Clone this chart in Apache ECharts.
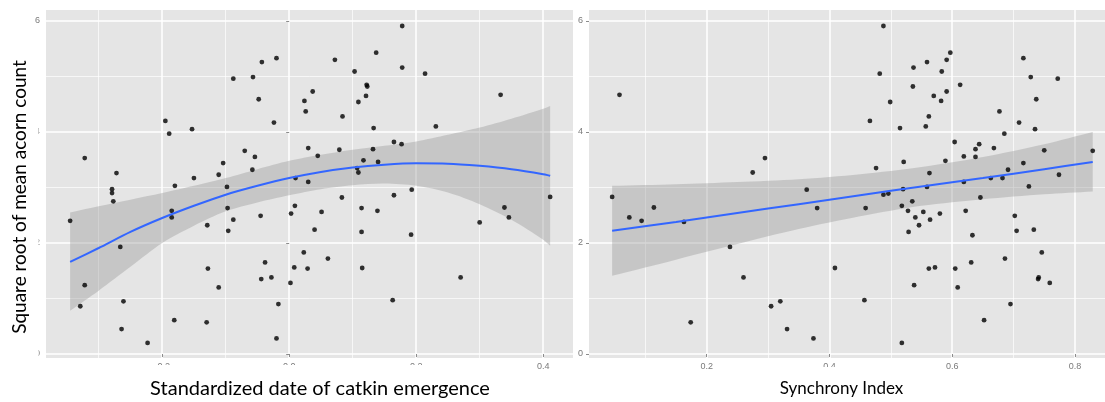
<!DOCTYPE html>
<html>
<head>
<meta charset="utf-8">
<script src="https://cdn.jsdelivr.net/npm/echarts@6/dist/echarts.min.js"></script>
<style>
  html, body { margin: 0; padding: 0; background: #ffffff; }
  #chart { width: 1105px; height: 402px; }
</style>
</head>
<body>
<div id="chart"></div>
<script>
// ---- Left panel: acorn count vs. standardized catkin emergence date ----
const catkinDate = [
  -0.322, -0.272, -0.195, -0.189, -0.153, -0.150, -0.111, -0.104, -0.088, -0.070,
  -0.057, -0.054, -0.058, -0.048, -0.043, -0.024, -0.020, 0.024, 0.026, 0.030,
  0.037, 0.178, 0.137, 0.072, 0.103, 0.178, 0.214, 0.122, 0.123, 0.121,
  0.109, 0.084, 0.333, 0.133, 0.231, 0.045, 0.079, 0.132, 0.165, 0.177,
  0.117, 0.140, 0.107, 0.109, 0.030, -0.279, -0.279, -0.277, -0.345, -0.180,
  -0.098, -0.185, -0.185, -0.129, -0.097, -0.088, -0.096, -0.045, 0.003, 0.009,
  0.010, -0.266, -0.038, 0.023, -0.128, 0.008, 0.029, -0.322, -0.044, -0.028,
  -0.111, 0.002, -0.329, -0.261, -0.017, -0.264, -0.181, -0.130, -0.223, -0.020,
  0.083, 0.165, 0.193, 0.411, 0.051, 0.114, 0.139, 0.339, 0.346, 0.300,
  0.040, 0.114, 0.192, 0.061, 0.115, 0.270, 0.163
];
const acornByDate = [
  3.53, 3.26, 4.20, 3.97, 4.05, 3.17, 3.23, 3.44, 4.96, 3.66,
  4.99, 3.55, 3.32, 4.59, 5.26, 4.17, 5.33, 4.56, 4.37, 3.71,
  4.73, 5.91, 5.43, 5.30, 5.09, 5.16, 5.05, 4.85, 4.82, 4.65,
  4.54, 4.28, 4.67, 4.07, 4.10, 3.57, 3.68, 3.69, 3.82, 3.78,
  3.49, 3.46, 3.35, 3.27, 3.10, 2.97, 2.90, 2.75, 2.40, 3.03,
  3.01, 2.58, 2.46, 2.32, 2.63, 2.42, 2.22, 2.49, 2.53, 2.67,
  3.17, 1.93, 1.65, 1.83, 1.54, 1.56, 1.54, 1.24, 1.35, 1.38,
  1.20, 1.28, 0.86, 0.95, 0.90, 0.45, 0.61, 0.57, 0.20, 0.28,
  2.82, 2.86, 2.96, 2.83, 2.56, 2.63, 2.58, 2.64, 2.46, 2.37,
  2.24, 2.20, 2.15, 1.72, 1.55, 1.38, 0.97
];
// quadratic smoother with its confidence band
const dateFitX = [
  -0.345, -0.30, -0.25, -0.20, -0.15, -0.10, -0.05, 0.00, 0.05,
  0.10, 0.15, 0.20, 0.25, 0.30, 0.35, 0.40, 0.411
];
const dateFitY = [
  1.66, 1.91, 2.20, 2.45, 2.67, 2.87, 3.03, 3.17, 3.28,
  3.36, 3.41, 3.435, 3.43, 3.39, 3.33, 3.24, 3.21
];
const dateFitLower = [
  0.78, 1.14, 1.57, 2.00, 2.31, 2.57, 2.73, 2.86, 2.97,
  3.04, 3.07, 3.03, 2.91, 2.70, 2.42, 2.06, 1.95
];
const dateFitUpper = [
  2.55, 2.66, 2.78, 2.90, 3.03, 3.17, 3.33, 3.48, 3.59,
  3.68, 3.75, 3.83, 3.95, 4.08, 4.24, 4.42, 4.47
];
const dateTicks = [-0.2, 0.0, 0.2, 0.4];
const dateMinor = [-0.3, -0.1, 0.1, 0.3];

// ---- Right panel: acorn count vs. synchrony index ----
const synchronyIndex = [
  0.058, 0.295, 0.275, 0.488, 0.482, 0.499, 0.466, 0.515, 0.476, 0.521,
  0.537, 0.536, 0.559, 0.583, 0.591, 0.597, 0.570, 0.582, 0.591, 0.613,
  0.562, 0.557, 0.604, 0.638, 0.644, 0.619, 0.638, 0.589, 0.563, 0.668,
  0.677, 0.685, 0.709, 0.716, 0.728, 0.737, 0.735, 0.772, 0.750, 0.716,
  0.691, 0.682, 0.663, 0.774, 0.829, 0.046, 0.074, 0.094, 0.114, 0.163,
  0.238, 0.260, 0.363, 0.380, 0.409, 0.174, 0.305, 0.320, 0.331, 0.374,
  0.459, 0.488, 0.496, 0.520, 0.559, 0.518, 0.535, 0.528, 0.553, 0.540,
  0.564, 0.546, 0.580, 0.529, 0.619, 0.646, 0.725, 0.622, 0.633, 0.702,
  0.705, 0.733, 0.746, 0.686, 0.631, 0.562, 0.572, 0.605, 0.538, 0.609,
  0.740, 0.741, 0.759, 0.457, 0.695, 0.652, 0.518
];
const acornBySync = [
  4.67, 3.53, 3.27, 5.91, 5.05, 4.54, 4.20, 4.07, 3.35, 3.46,
  5.16, 4.82, 5.26, 5.09, 5.30, 5.43, 4.65, 4.56, 4.73, 4.85,
  4.28, 4.10, 3.82, 3.69, 3.78, 3.56, 3.55, 3.48, 3.26, 3.71,
  4.37, 3.97, 4.17, 5.33, 4.99, 4.59, 4.05, 4.96, 3.67, 3.44,
  3.32, 3.17, 3.17, 3.23, 3.66, 2.83, 2.46, 2.40, 2.64, 2.38,
  1.93, 1.38, 2.96, 2.63, 1.55, 0.57, 0.86, 0.95, 0.45, 0.28,
  2.63, 2.87, 2.89, 2.97, 3.01, 2.67, 2.75, 2.58, 2.56, 2.46,
  2.42, 2.32, 2.53, 2.20, 3.10, 2.82, 3.02, 2.58, 2.14, 2.49,
  2.22, 2.24, 1.83, 1.72, 1.65, 1.54, 1.56, 1.54, 1.24, 1.20,
  1.35, 1.38, 1.28, 0.97, 0.90, 0.61, 0.20
];
// linear fit with its confidence band
const syncFitX     = [0.046, 0.15, 0.25, 0.35, 0.45, 0.55, 0.65, 0.75, 0.829];
const syncFitY     = [2.22, 2.38, 2.54, 2.70, 2.86, 3.02, 3.17, 3.33, 3.46];
const syncFitLower = [1.41, 1.70, 1.98, 2.25, 2.48, 2.67, 2.79, 2.88, 2.93];
const syncFitUpper = [3.03, 3.06, 3.10, 3.15, 3.24, 3.37, 3.55, 3.78, 4.00];
const syncTicks = [0.2, 0.4, 0.6, 0.8];
const syncMinor = [0.1, 0.3, 0.5, 0.7];

// ---- shared y axis ----
const acornTicks = [0, 2, 4, 6];
const acornMinor = [1, 3, 5];

// ---------------------------------------------------------------
const zip = (a, b) => a.map((v, i) => [v, b[i]]);

const PANEL_BG = '#E5E5E5';
const TICK_FONT = 'Liberation Sans';
const TITLE_FONT = 'Lato';
const Y_RANGE = { min: -0.072, max: 6.198 };

function majorX(gridIndex, range, ticks) {
  return {
    type: 'value', gridIndex, min: range[0], max: range[1], position: 'bottom',
    axisLine: { show: false },
    axisTick: { show: true, length: 3, customValues: ticks, lineStyle: { color: '#8c8c8c', width: 1 } },
    axisLabel: {
      customValues: ticks, margin: 4, fontSize: 9, color: '#7a7a7a', fontFamily: TICK_FONT,
      formatter: v => Number(v).toFixed(1)
    },
    splitLine: { show: true, lineStyle: { color: '#ffffff', width: 1.5 } }
  };
}
function minorX(gridIndex, range, ticks) {
  return {
    type: 'value', gridIndex, min: range[0], max: range[1], position: 'top',
    axisLine: { show: false },
    axisTick: { show: false, customValues: ticks },
    axisLabel: { show: false, customValues: ticks },
    splitLine: { show: true, lineStyle: { color: '#ffffff', width: 0.8, opacity: 0.85 } }
  };
}
function majorY(gridIndex) {
  return {
    type: 'value', gridIndex, min: Y_RANGE.min, max: Y_RANGE.max, position: 'left',
    axisLine: { show: false },
    axisTick: { show: true, length: 3, customValues: acornTicks, lineStyle: { color: '#8c8c8c', width: 1 } },
    axisLabel: {
      customValues: acornTicks, margin: 6, fontSize: 9, color: '#7a7a7a', fontFamily: TICK_FONT,
      formatter: v => String(Math.round(v))
    },
    splitLine: { show: true, lineStyle: { color: '#ffffff', width: 1.5 } }
  };
}
function minorY(gridIndex) {
  return {
    type: 'value', gridIndex, min: Y_RANGE.min, max: Y_RANGE.max, position: 'right',
    axisLine: { show: false },
    axisTick: { show: false, customValues: acornMinor },
    axisLabel: { show: false, customValues: acornMinor },
    splitLine: { show: true, lineStyle: { color: '#ffffff', width: 0.8, opacity: 0.85 } }
  };
}

// confidence ribbon drawn as one polygon through the axis scales
function bandSeries(xAxisIndex, yAxisIndex, xs, lower, upper) {
  return {
    type: 'custom', xAxisIndex, yAxisIndex, silent: true,
    data: xs.map((x, i) => [x, lower[i], upper[i]]),
    encode: { x: 0, y: [1, 2] },
    renderItem: function (params, api) {
      if (params.dataIndex !== 0) return null;
      const top = xs.map((x, i) => api.coord([x, upper[i]]));
      const bottom = xs.map((x, i) => api.coord([x, lower[i]])).reverse();
      const n = top.length;
      // repeat the corner points so the ribbon keeps square ends
      const pts = [].concat(
        [top[0]], top, [top[n - 1]],
        [bottom[0]], bottom, [bottom[n - 1]]
      );
      return {
        type: 'polygon',
        shape: { points: pts, smooth: 0.3 },
        style: { fill: 'rgba(153,153,153,0.4)', stroke: null }
      };
    }
  };
}
function fitSeries(xAxisIndex, yAxisIndex, xs, ys) {
  return {
    type: 'line', xAxisIndex, yAxisIndex, silent: true,
    data: zip(xs, ys), smooth: 0.3, symbol: 'none',
    lineStyle: { color: '#3366FF', width: 2 }
  };
}
function pointSeries(xAxisIndex, yAxisIndex, xs, ys) {
  return {
    type: 'scatter', xAxisIndex, yAxisIndex, silent: true,
    data: zip(xs, ys), symbolSize: 4.8,
    itemStyle: { color: '#000000' }
  };
}

const chart = echarts.init(document.getElementById('chart'), null, { renderer: 'canvas' });

chart.setOption({
  animation: false,
  backgroundColor: '#ffffff',
  grid: [
    { left: 46, top: 10, width: 527, height: 348, show: true, backgroundColor: PANEL_BG, borderWidth: 0 },
    { left: 589, top: 10, width: 516, height: 348, show: true, backgroundColor: PANEL_BG, borderWidth: 0 }
  ],
  xAxis: [
    majorX(0, [-0.383, 0.447], dateTicks),
    minorX(0, [-0.383, 0.447], dateMinor),
    majorX(1, [0.0083, 0.849], syncTicks),
    minorX(1, [0.0083, 0.849], syncMinor)
  ],
  yAxis: [majorY(0), minorY(0), majorY(1), minorY(1)],
  series: [
    pointSeries(0, 0, catkinDate, acornByDate),
    bandSeries(0, 0, dateFitX, dateFitLower, dateFitUpper),
    fitSeries(0, 0, dateFitX, dateFitY),
    pointSeries(2, 2, synchronyIndex, acornBySync),
    bandSeries(2, 2, syncFitX, syncFitLower, syncFitUpper),
    fitSeries(2, 2, syncFitX, syncFitY)
  ],
  graphic: [
    // white title boxes sit over the edge of the tick labels
    { type: 'rect', z: 100, shape: { x: 0, y: 45, width: 38.5, height: 330 }, style: { fill: '#ffffff' } },
    { type: 'rect', z: 100, shape: { x: 140, y: 365, width: 370, height: 37 }, style: { fill: '#ffffff' } },
    { type: 'rect', z: 100, shape: { x: 775, y: 367, width: 135, height: 35 }, style: { fill: '#ffffff' } },
    {
      type: 'text', z: 101, x: 20, y: 197, rotation: Math.PI / 2,
      style: {
        text: 'Square root of mean acorn count', fill: '#000000',
        fontFamily: TITLE_FONT, fontSize: 19,
        align: 'center', verticalAlign: 'middle'
      }
    },
    {
      type: 'text', z: 101, x: 320, y: 389,
      style: {
        text: 'Standardized date of catkin emergence', fill: '#000000',
        fontFamily: TITLE_FONT, fontSize: 20,
        align: 'center', verticalAlign: 'middle'
      }
    },
    {
      type: 'text', z: 101, x: 841.5, y: 389,
      style: {
        text: 'Synchrony Index', fill: '#000000',
        fontFamily: TITLE_FONT, fontSize: 17,
        align: 'center', verticalAlign: 'middle'
      }
    }
  ]
});
</script>
</body>
</html>
